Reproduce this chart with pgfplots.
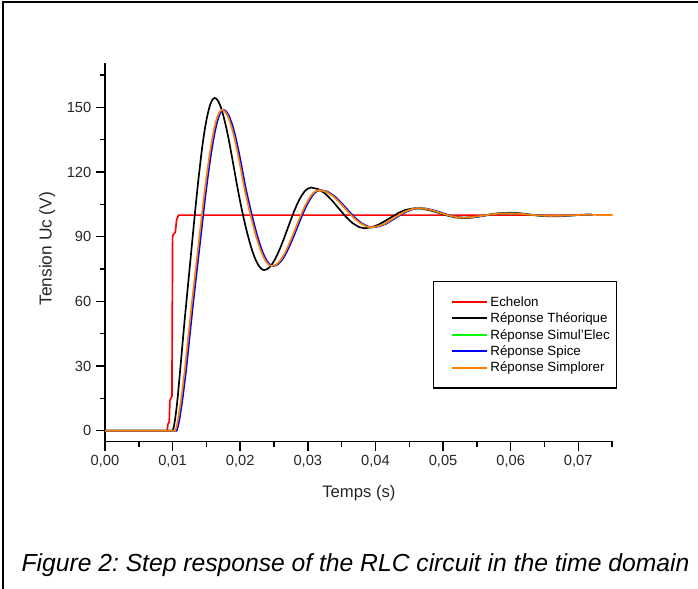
\documentclass[border=0pt]{standalone}
\usepackage{fontspec}
\setmainfont{Liberation Sans}
\usepackage{pgfplots}
\usepackage{pgfplotstable}
\pgfplotsset{compat=1.18}
\definecolor{orng}{RGB}{255,128,0}
\definecolor{grn}{RGB}{0,255,0}
\definecolor{blu}{RGB}{0,0,255}
\definecolor{rd}{RGB}{255,0,0}

\pgfplotstableread{
t v
0 0
0.0092 0
0.0093 3
0.0095 4
0.0096 14
0.0099 16
0.0100 90
0.0101 91
0.0104 92
0.0106 98
0.0109 100
0.0720 100
}\stepdata

\pgfplotstableread{
t v
0 0
0.0100 0
0.0102 2
0.0104 6
0.0106 11
0.0108 17
0.0110 24
0.0112 31
0.0114 38
0.0116 45
0.0118 52
0.0120 58.5
0.0122 65
0.0124 71.5
0.0126 78
0.0128 84.5
0.0130 91
0.0132 97.5
0.0134 104
0.0136 110
0.0138 116
0.0140 121.5
0.0142 127
0.0144 132
0.0146 136.5
0.0148 140.5
0.0150 144
0.0152 147
0.0154 149.6
0.0156 151.6
0.0158 153
0.0160 153.9
0.0162 154.3
0.0164 154.1
0.0166 153.5
0.0168 152.5
0.0170 151.1
0.0172 149.4
0.0174 147.3
0.0176 145
0.0178 142.4
0.0180 139.6
0.0182 136.6
0.0184 133.4
0.0186 130.1
0.0188 126.6
0.0190 123.1
0.0192 119.6
0.0194 116.1
0.0196 112.7
0.0198 109.4
0.0200 106.2
0.0202 103.1
0.0204 100.2
0.0206 97.4
0.0208 94.7
0.0210 92.1
0.0212 89.7
0.0214 87.4
0.0216 85.3
0.0218 83.3
0.0220 81.5
0.0222 79.9
0.0224 78.5
0.0226 77.3
0.0228 76.3
0.0230 75.5
0.0232 74.9
0.0235 74.5
0.0239 74.8
0.0243 75.7
0.0247 77.2
0.0251 79.2
0.0255 81.7
0.0259 84.6
0.0263 87.7
0.0267 91.1
0.0271 94.5
0.0275 97.9
0.0279 101.2
0.0283 104.2
0.0287 106.9
0.0291 109.1
0.0295 110.9
0.0299 112.1
0.0305 112.8
0.0316 112.0
0.0326 109.9
0.0336 106.7
0.0346 103.0
0.0356 99.3
0.0366 96.3
0.0376 94.4
0.0384 93.9
0.0394 94.3
0.0404 95.5
0.0414 97.2
0.0424 99.1
0.0434 101.0
0.0444 102.4
0.0458 103.2
0.0470 102.9
0.0482 102.1
0.0494 101.0
0.0506 99.8
0.0518 98.9
0.0532 98.6
0.0545 98.9
0.0558 99.6
0.0571 100.4
0.0584 100.9
0.0600 101.1
0.0615 100.8
0.0630 100.1
0.0645 99.6
0.0660 99.4
0.0675 99.5
0.0690 99.8
0.0705 100.2
0.0720 100.3
}\theo

\pgfplotstableread{
t tg tb v
0 0 0 0
0.0104 0.0105 0.0106 0
0.0106 0.0107 0.0108 2
0.0108 0.0109 0.0110 5
0.0110 0.0111 0.0112 9
0.0112 0.0113 0.0114 13
0.0114 0.0115 0.0116 18
0.0116 0.0117 0.0118 23
0.0118 0.0119 0.0120 28
0.0120 0.0121 0.0122 34
0.0122 0.0123 0.0124 40
0.0124 0.0125 0.0126 46
0.0126 0.0127 0.0128 52
0.0128 0.0129 0.0130 58
0.0130 0.0131 0.0132 63.5
0.0132 0.0133 0.0134 69
0.0134 0.0135 0.0136 74.5
0.0136 0.0137 0.0138 80
0.0138 0.0139 0.0140 85.5
0.0140 0.0141 0.0142 91
0.0142 0.0143 0.0144 96.5
0.0144 0.0145 0.0146 102
0.0146 0.0147 0.0148 107.5
0.0148 0.0149 0.0150 112.5
0.0150 0.0151 0.0152 117.5
0.0152 0.0153 0.0154 122
0.0154 0.0155 0.0156 126.5
0.0156 0.0157 0.0158 130.5
0.0158 0.0159 0.0160 134.3
0.0160 0.0161 0.0162 137.7
0.0162 0.0163 0.0164 140.7
0.0164 0.0165 0.0166 143.3
0.0166 0.0167 0.0168 145.4
0.0168 0.0169 0.0170 147
0.0170 0.0171 0.0172 148.1
0.0173 0.0174 0.0175 148.8
0.0175 0.0176 0.0177 148.6
0.0177 0.0178 0.0179 148.1
0.0179 0.0180 0.0181 147.3
0.0181 0.0182 0.0183 146.2
0.0183 0.0184 0.0185 144.8
0.0185 0.0186 0.0187 143.0
0.0187 0.0188 0.0189 141.1
0.0189 0.0190 0.0191 138.8
0.0191 0.0192 0.0193 136.3
0.0193 0.0194 0.0195 133.6
0.0195 0.0196 0.0197 130.7
0.0197 0.0198 0.0199 127.6
0.0199 0.0200 0.0201 124.4
0.0201 0.0202 0.0203 121.1
0.0203 0.0204 0.0205 117.7
0.0205 0.0206 0.0207 114.3
0.0207 0.0208 0.0209 111.2
0.0209 0.0210 0.0211 108.5
0.0211 0.0212 0.0213 105.7
0.0213 0.0214 0.0215 103.0
0.0215 0.0216 0.0217 100.4
0.0217 0.0218 0.0219 97.8
0.0219 0.0220 0.0221 95.3
0.0221 0.0222 0.0223 93.0
0.0223 0.0224 0.0225 90.7
0.0225 0.0226 0.0227 88.6
0.0227 0.0228 0.0229 86.6
0.0229 0.0230 0.0231 84.7
0.0231 0.0232 0.0233 83.0
0.0233 0.0234 0.0235 81.5
0.0235 0.0236 0.0237 80.2
0.0237 0.0238 0.0239 79.0
0.0239 0.0240 0.0241 78.1
0.0241 0.0242 0.0243 77.4
0.0243 0.0244 0.0245 76.8
0.0245 0.0246 0.0247 76.5
0.0247 0.0248 0.0249 76.4
0.0251 0.0252 0.0253 76.7
0.0255 0.0256 0.0257 77.5
0.0259 0.0260 0.0261 78.9
0.0263 0.0264 0.0265 80.7
0.0267 0.0268 0.0269 83.0
0.0271 0.0272 0.0273 85.7
0.0275 0.0276 0.0277 88.6
0.0279 0.0280 0.0281 91.6
0.0283 0.0284 0.0285 94.8
0.0287 0.0288 0.0289 97.9
0.0291 0.0292 0.0293 100.9
0.0295 0.0296 0.0297 103.7
0.0299 0.0300 0.0301 106.1
0.0303 0.0304 0.0305 108.2
0.0307 0.0308 0.0309 109.9
0.0311 0.0312 0.0313 111.0
0.0317 0.0318 0.0319 111.6
0.0327 0.0328 0.0329 110.9
0.0337 0.0338 0.0339 108.9
0.0347 0.0348 0.0349 105.9
0.0357 0.0358 0.0359 102.4
0.0367 0.0368 0.0369 99.0
0.0377 0.0378 0.0379 96.3
0.0387 0.0388 0.0389 94.7
0.0394 0.0395 0.0396 94.3
0.0404 0.0405 0.0406 94.8
0.0414 0.0415 0.0416 96.0
0.0424 0.0425 0.0426 97.9
0.0434 0.0435 0.0436 99.9
0.0444 0.0445 0.0446 101.6
0.0454 0.0455 0.0456 102.8
0.0463 0.0464 0.0465 103.2
0.0473 0.0474 0.0475 103.0
0.0483 0.0484 0.0485 102.3
0.0493 0.0494 0.0495 101.4
0.0503 0.0504 0.0505 100.3
0.0513 0.0514 0.0515 99.5
0.0523 0.0524 0.0525 98.9
0.0530 0.0531 0.0532 98.8
0.0545 0.0546 0.0547 99.1
0.0558 0.0559 0.0560 99.7
0.0571 0.0572 0.0573 100.3
0.0584 0.0585 0.0586 100.7
0.0598 0.0599 0.0600 100.8
0.0613 0.0614 0.0615 100.6
0.0628 0.0629 0.0630 100.2
0.0643 0.0644 0.0645 99.8
0.0660 0.0661 0.0662 99.6
0.0675 0.0676 0.0677 99.7
0.0690 0.0691 0.0692 99.9
0.0705 0.0706 0.0707 100.1
0.0720 0.0721 0.0722 100.1
0.0751 nan nan 100
}\sims

\begin{document}
\frenchspacing
\begin{tikzpicture}
\path[use as bounding box] (0,0) rectangle (523.5pt,441pt);
\draw[line width=1.5pt] (2.25pt,-3pt) -- (2.25pt,439.5pt) -- (527pt,439.5pt);
\begin{axis}[
  at={(78.75pt,109.725pt)}, anchor=south west,
  scale only axis, width=380.8pt, height=283.8pt,
  xmin=0, xmax=0.0751, ymin=-5.1, ymax=170.4,
  axis lines=left,
  axis line style={-, line width=1.1pt},
  every outer x axis line/.append style={-},
  every outer y axis line/.append style={-},
  tick align=outside,
  major tick length=6.75pt, minor tick length=3.75pt,
  tick style={black, line width=1.1pt},
  scaled x ticks=false, scaled y ticks=false,
  xtick={0,0.01,0.02,0.03,0.04,0.05,0.06,0.07},
  xticklabels={{0,00},{0,01},{0,02},{0,03},{0,04},{0,05},{0,06},{0,07}},
  minor xtick={0.005,0.015,0.025,0.035,0.045,0.055,0.065,0.075},
  ytick={0,30,60,90,120,150},
  minor ytick={15,45,75,105,135,165},
  tick label style={font=\fontsize{11}{13}\selectfont, text=black!85},
  /pgf/number format/assume math mode=true,
  xlabel={Temps (s)}, ylabel={Tension Uc (V)},
  every axis x label/.style={at={(axis description cs:0.5,-0.135)}, anchor=center, font=\fontsize{12.5}{15}\selectfont, text=black!85},
  every axis y label/.style={at={(axis description cs:-0.114,0.51)}, anchor=center, rotate=90, font=\fontsize{13}{15}\selectfont, text=black!85},
  legend style={at={(0.646,0.4247)}, anchor=north west, draw=black, line width=1.1pt,
    inner xsep=3pt, inner ysep=9pt, font=\fontsize{10}{12}\selectfont,
    nodes={inner sep=2pt, text depth=0.1em}, row sep=0pt},
  legend cell align=left,
  legend image code/.code={\path (0pt,0pt); \draw[#1, line width=1.3pt] (10pt,0pt) -- (36.25pt,0pt);},
]
\addplot[rd, line width=1.25pt] table[x=t, y=v] {\stepdata};
\addlegendentry{Echelon}
\addplot[black, line width=1.25pt] table[x=t, y=v] {\theo};
\addlegendentry{Réponse Théorique}
\addplot[grn, line width=1.25pt] table[x=tg, y=v] {\sims};
\addlegendentry{Réponse Simul'Elec}
\addplot[blu, line width=1.25pt] table[x=tb, y=v] {\sims};
\addlegendentry{Réponse Spice}
\addplot[orng, line width=1.25pt] table[x=t, y=v] {\sims};
\addlegendentry{Réponse Simplorer}
\end{axis}
\node[anchor=base, font=\fontsize{18.5}{22}\selectfont\itshape] at (266.6pt,12.75pt) {Figure 2: Step response of the RLC circuit in the time domain};
\end{tikzpicture}
\end{document}
